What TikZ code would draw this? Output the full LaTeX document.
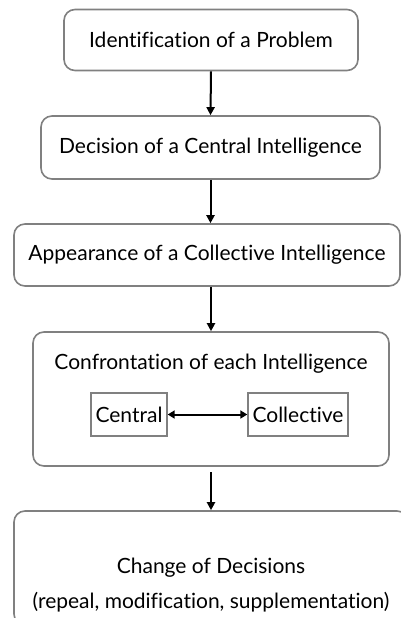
\documentclass[tikz,border=0pt]{standalone}
\usepackage{fontspec}
\setmainfont{Lato}[Ligatures={NoCommon,NoRare}]
\usetikzlibrary{arrows.meta}
\tikzset{
  flowbox/.style={draw=black!50, line width=1.6pt, rounded corners=11pt, fill=white, align=center, inner sep=0pt},
  smallbox/.style={draw=black!50, line width=1.4pt, inner sep=0pt, align=center},
  flowarrow/.style={-{Triangle[length=8pt,width=8pt]}, line width=2pt, black},
  txt/.style={font=\fontsize{21}{35}\selectfont, inner sep=0pt, align=center}
}
\begin{document}
\begin{tikzpicture}[x=1pt,y=-1pt]
\useasboundingbox (0,0) rectangle (401,618);
\clip (0,0) rectangle (401,618);
\node[flowbox, minimum width=294pt, minimum height=61pt] (b1) at (211,40) {};
\node[txt] (t1) at (211,40) {Identification of a Problem};
\node[flowbox, minimum width=339pt, minimum height=63pt] (b2) at (210.5,147.5) {};
\node[txt] (t2) at (210.5,147.5) {Decision of a Central Intelligence};
\node[flowbox, minimum width=386pt, minimum height=62pt] (b3) at (207,255) {};
\node[txt] (t3) at (207,255) {Appearance of a Collective Intelligence};
\node[flowbox, minimum width=356pt, minimum height=134pt] (b4) at (211,399) {};
\node[txt] (t4) at (211,364) {Confrontation of each Intelligence};
\node[smallbox, minimum width=76pt, minimum height=43pt] (c1) at (129,414.5) {};
\node[txt] (c1t) at (129,414.5) {Central};
\node[smallbox, minimum width=100pt, minimum height=43pt] (c2) at (298,414.5) {};
\node[txt] (c2t) at (298,414.5) {Collective};
\node[flowbox, minimum width=394pt, minimum height=114pt] (b5) at (211,568) {};
\node[txt] (t5) at (211,585) {Change of Decisions\\(repeal, modification, supplementation)};
\coordinate (a4s) at (211,472);
\draw[flowarrow] (b1.south) -- (b2.north);
\draw[flowarrow] (b2.south) -- (b3.north -| b2.south);
\draw[flowarrow] (b3.south -| b1.south) -- (b4.north);
\draw[flowarrow] (a4s) -- (a4s |- b5.north);
\draw[{Triangle[length=7pt,width=8pt]}-{Triangle[length=7pt,width=8pt]}, line width=2pt] (c1.east) -- (c2.west);
\end{tikzpicture}
\end{document}
